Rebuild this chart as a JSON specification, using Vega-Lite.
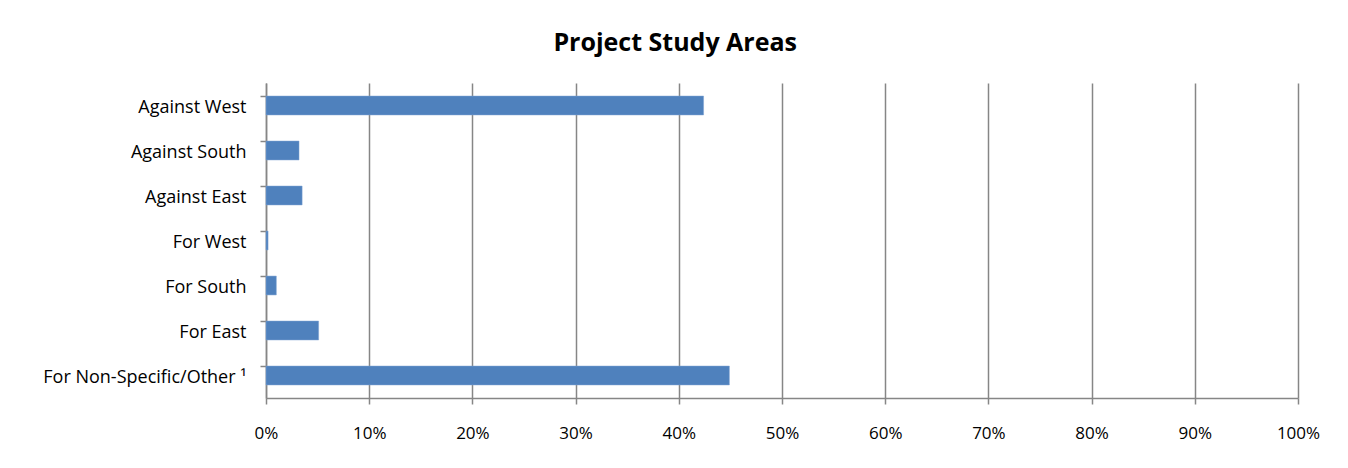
{
  "$schema": "https://vega.github.io/schema/vega-lite/v6.json",
  "width": 1032,
  "height": 315,
  "autosize": {"type": "none"},
  "padding": {"left": 266, "top": 83, "right": 50, "bottom": 70},
  "background": "white",
  "title": {
    "text": "Project Study Areas",
    "anchor": "middle",
    "frame": "bounds",
    "font": "Open Sans",
    "fontSize": 25,
    "fontWeight": "bold",
    "color": "#000000",
    "offset": 27,
    "dx": -6
  },
  "data": {
    "values": [
      {"area": "Against West", "pct": 0.424},
      {"area": "Against South", "pct": 0.032},
      {"area": "Against East", "pct": 0.035},
      {"area": "For West", "pct": 0.002},
      {"area": "For South", "pct": 0.010},
      {"area": "For East", "pct": 0.051},
      {"area": "For Non-Specific/Other ¹", "pct": 0.449}
    ]
  },
  "mark": {"type": "bar", "color": "#4F81BD", "stroke": "#7FA3D2", "strokeWidth": 0.5},
  "encoding": {
    "y": {
      "field": "area",
      "type": "nominal",
      "sort": null,
      "title": null,
      "scale": {"paddingInner": 0.58, "paddingOuter": 0.29},
      "axis": {
        "bandPosition": 0,
        "domainColor": "#868686",
        "domainWidth": 1.5,
        "tickColor": "#868686",
        "tickWidth": 1.5,
        "tickSize": 6,
        "labelPadding": 14,
        "labelOffset": 2,
        "labelFont": "Open Sans",
        "labelFontSize": 18,
        "labelColor": "#000000",
        "labelLimit": 400,
        "labelOverlap": false,
        "grid": false
      }
    },
    "x": {
      "field": "pct",
      "type": "quantitative",
      "title": null,
      "scale": {"domain": [0, 1], "nice": false},
      "axis": {
        "format": ".0%",
        "values": [0, 0.1, 0.2, 0.3, 0.4, 0.5, 0.6, 0.7, 0.8, 0.9, 1],
        "domainColor": "#868686",
        "domainWidth": 1.5,
        "tickColor": "#868686",
        "tickWidth": 1.5,
        "tickSize": 6,
        "labelPadding": 21,
        "labelFont": "Open Sans",
        "labelFontSize": 17,
        "labelColor": "#000000",
        "labelOverlap": false,
        "grid": true,
        "gridColor": "#868686",
        "gridWidth": 1.5,
        "labelFlush": false
      }
    }
  },
  "config": {"view": {"stroke": null}}
}
